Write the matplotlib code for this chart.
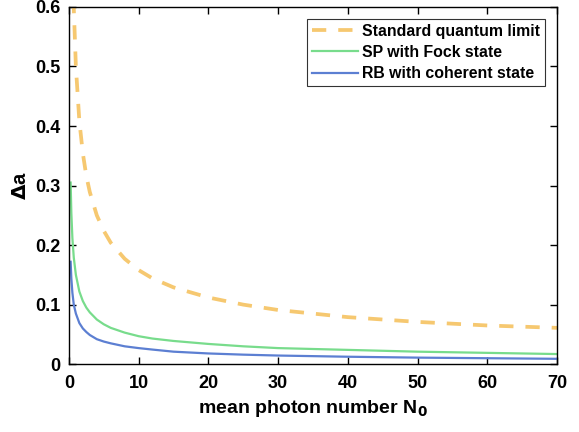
import numpy as np
import matplotlib.pyplot as plt

plt.rcParams['font.family'] = ['Liberation Sans', 'DejaVu Sans']
plt.rcParams['font.weight'] = 'bold'

# mean photon number sample points
n0 = [0.25, 0.35, 0.5, 0.7, 1, 1.5, 2, 2.5, 3, 4, 5, 6, 8, 10, 12, 15,
      20, 25, 30, 40, 50, 60, 70]

# standard quantum limit (values above 0.6 are clipped by the axes)
sql = [1.0, 0.845, 0.707, 0.598, 0.50, 0.408, 0.354, 0.316, 0.289, 0.25,
       0.224, 0.204, 0.177, 0.158, 0.144, 0.129, 0.112, 0.100, 0.091,
       0.079, 0.071, 0.065, 0.061]

# SP with Fock state
sp_fock = [0.305, 0.254, 0.212, 0.179, 0.150, 0.122, 0.106, 0.095, 0.087,
           0.075, 0.067, 0.061, 0.053, 0.047, 0.043, 0.039, 0.034, 0.030,
           0.027, 0.024, 0.021, 0.019, 0.017]

# RB with coherent state
rb_coh = [0.172, 0.144, 0.120, 0.100, 0.085, 0.069, 0.060, 0.054, 0.049,
          0.042, 0.038, 0.035, 0.030, 0.027, 0.0245, 0.021, 0.018, 0.016,
          0.0145, 0.0125, 0.011, 0.010, 0.009]

fig = plt.figure(figsize=(5.79, 4.32), dpi=100)
ax = fig.add_axes([0.119, 0.157, 0.843, 0.827])

ax.plot(n0, sql, color='#F6C870', lw=2.7, ls=(0, (3.8, 3.2)),
        label='Standard quantum limit')
ax.plot(n0, sp_fock, color='#78DC8C', lw=1.6, label='SP with Fock state')
ax.plot(n0, rb_coh, color='#5C7FD2', lw=1.6, label='RB with coherent state')

ax.set_xlim(0, 70)
ax.set_ylim(0, 0.6)
ax.set_xticks(np.arange(0, 71, 10))
ax.set_yticks(np.arange(0, 0.61, 0.1))
ax.set_yticklabels(['0', '0.1', '0.2', '0.3', '0.4', '0.5', '0.6'])
ax.tick_params(direction='in', top=True, right=True, labelsize=13,
               width=1.0, length=5)
ax.tick_params(axis='x', pad=8)
ax.tick_params(axis='y', pad=6)
for s in ax.spines.values():
    s.set_linewidth(1.0)

ax.set_xlabel('mean photon number N$_\\mathbf{0}$', fontsize=14,
              fontweight='bold', labelpad=4)
ax.set_ylabel('$\\mathbf{\\Delta}$a', fontsize=14.5, fontweight='bold',
              labelpad=4)

leg = ax.legend(loc='upper right', fontsize=11.4, frameon=True, fancybox=False,
                edgecolor='black', borderpad=0.3, handlelength=2.9,
                handletextpad=0.3, labelspacing=0.4, borderaxespad=0.75)
leg.get_frame().set_linewidth(0.8)

fig.savefig('out.png', dpi=100)
